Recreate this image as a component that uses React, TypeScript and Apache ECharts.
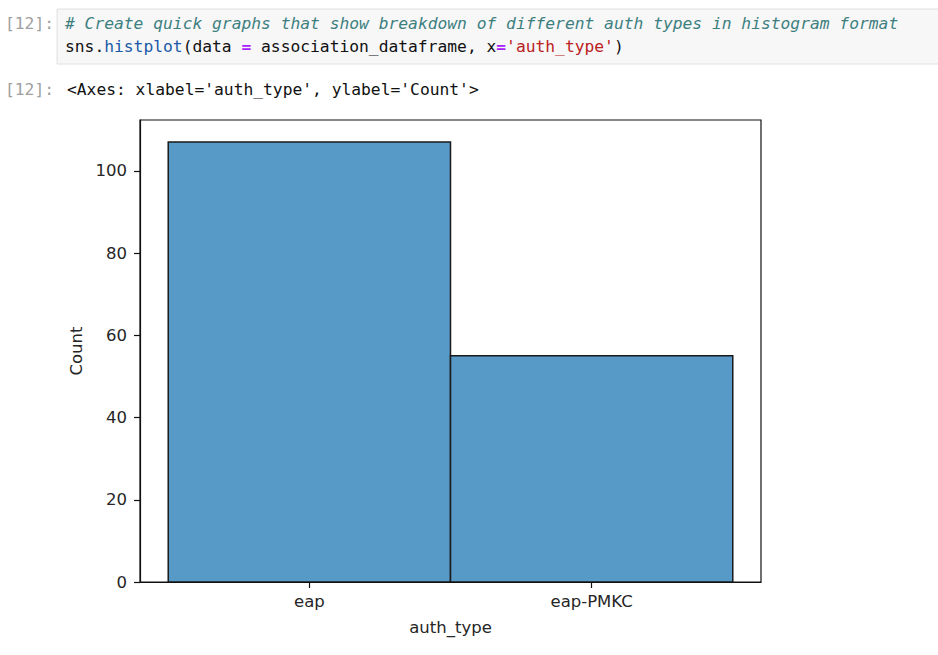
import React, { useEffect, useRef } from "react";
import * as echarts from "echarts";

const categories = ["eap", "eap-PMKC"];
const counts = [107, 55];
const yTicks = [0, 20, 40, 60, 80, 100];
const promptLabel = "[12]:";
const commentLine = "# Create quick graphs that show breakdown of different auth types in histogram format";
const outputLine = "<Axes: xlabel='auth_type', ylabel='Count'>";

export default function App() {
  const ref = useRef<HTMLDivElement>(null);
  useEffect(() => {
    if (!ref.current) return;
    const chart = echarts.init(ref.current, null, { renderer: "svg" });
    const mono = "DejaVu Sans Mono";
    const sans = "DejaVu Sans";
    const codeSize = 16.3;
    const data = counts.map((c, i) => [i, c]);
    const yMax = Math.max(...counts) * 1.05;
    const spine = { color: "#111", width: 1.2 };
    chart.setOption({
      animation: false,
      backgroundColor: "#ffffff",
      grid: {
        left: 140,
        right: 177,
        top: 120,
        bottom: 73,
        show: true,
        borderColor: "#111",
        borderWidth: 1.2,
        backgroundColor: "transparent",
      },
      xAxis: {
        type: "value",
        min: -0.6,
        max: 1.6,
        name: "auth_type",
        nameLocation: "middle",
        nameGap: 37,
        nameTextStyle: { color: "#262626", fontSize: 16.5, fontFamily: sans },
        axisLine: { show: true, onZero: false, lineStyle: spine },
        splitLine: { show: false },
        axisTick: { show: true, customValues: [0, 1], length: 6, inside: false, lineStyle: spine },
        axisLabel: {
          customValues: [0, 1],
          formatter: (v: number) => categories[Math.round(v)] ?? "",
          color: "#262626",
          fontSize: 16.5,
          fontFamily: sans,
          margin: 11,
        },
      },
      yAxis: {
        type: "value",
        min: 0,
        max: yMax,
        name: "Count",
        nameLocation: "middle",
        nameGap: 55,
        nameTextStyle: { color: "#262626", fontSize: 16.5, fontFamily: sans },
        axisLine: { show: true, onZero: false, lineStyle: spine },
        splitLine: { show: false },
        axisTick: { show: true, customValues: yTicks, length: 6, inside: false, lineStyle: spine },
        axisLabel: {
          customValues: yTicks,
          color: "#262626",
          fontSize: 16.5,
          fontFamily: sans,
          margin: 13,
        },
      },
      series: [
        {
          type: "custom",
          data,
          clip: true,
          renderItem: (params: any, api: any) => {
            const x = api.value(0);
            const y = api.value(1);
            const p0 = api.coord([x - 0.5, y]);
            const p1 = api.coord([x + 0.5, 0]);
            return {
              type: "rect",
              shape: { x: p0[0], y: p0[1], width: p1[0] - p0[0], height: p1[1] - p0[1] },
              style: { fill: "#5799c7", stroke: "#1a1a1a", lineWidth: 1.5 },
            };
          },
        },
      ],
      graphic: [
        {
          type: "rect",
          shape: { x: 57, y: 9, width: 900, height: 55 },
          style: { fill: "#f7f7f7", stroke: "#e0e0e0", lineWidth: 1 },
          z: 0,
        },
        {
          type: "text",
          x: 5,
          y: 23,
          style: { text: promptLabel, fill: "#a0a0a0", font: `${codeSize}px '${mono}'`, verticalAlign: "middle" },
        },
        {
          type: "text",
          x: 65,
          y: 23,
          style: {
            text: commentLine,
            fill: "#3d7f7f",
            font: `italic ${codeSize}px '${mono}'`,
            verticalAlign: "middle",
          },
        },
        {
          type: "text",
          x: 65,
          y: 46,
          style: {
            text:
              "{n|sns.}{f|histplot}{n|(data }{o|=}{n| association_dataframe, x}{o|=}{s|'auth_type'}{n|)}",
            verticalAlign: "middle",
            rich: {
              n: { fill: "#111", fontFamily: mono, fontSize: codeSize },
              f: { fill: "#1a5aa8", fontFamily: mono, fontSize: codeSize },
              o: { fill: "#aa22ff", fontFamily: mono, fontSize: codeSize, fontWeight: "bold" },
              s: { fill: "#ba2121", fontFamily: mono, fontSize: codeSize },
            },
          },
        },
        {
          type: "text",
          x: 5,
          y: 89,
          style: { text: promptLabel, fill: "#a0a0a0", font: `${codeSize}px '${mono}'`, verticalAlign: "middle" },
        },
        {
          type: "text",
          x: 67,
          y: 89,
          style: { text: outputLine, fill: "#111", font: `${codeSize}px '${mono}'`, verticalAlign: "middle" },
        },
      ],
    });
    return () => chart.dispose();
  }, []);
  return (
    <div
      ref={ref}
      style={{ position: "fixed", left: 0, top: 0, width: 938, height: 655, background: "#fff" }}
    />
  );
}
